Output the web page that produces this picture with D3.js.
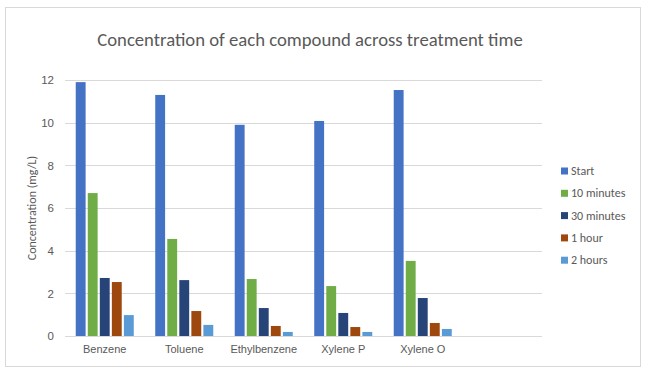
<!DOCTYPE html>
<html>
<head>
<meta charset="utf-8">
<script src="https://cdn.jsdelivr.net/npm/d3@7"></script>
<style>
	body { margin: 0; background: #fff; }
	svg { display: block; font-family: Carlito, Calibri, "Liberation Sans", sans-serif; }
</style>
</head>
<body>
<div id="svg-container"></div>
<script>
// DATA
const compounds = ["Benzene", "Toluene", "Ethylbenzene", "Xylene P", "Xylene O", ""];
const seriesNames = ["Start", "10 minutes", "30 minutes", "1 hour", "2 hours"];
const start = [11.9, 11.3, 9.9, 10.08, 11.53];
const min10 = [6.7, 4.55, 2.67, 2.34, 3.52];
const min30 = [2.72, 2.62, 1.31, 1.08, 1.78];
const hour1 = [2.53, 1.17, 0.47, 0.42, 0.61];
const hour2 = [0.98, 0.52, 0.19, 0.19, 0.33];
const yTicks = [0, 2, 4, 6, 8, 10, 12];
const colors = ["#4472C4", "#70AD47", "#264478", "#9E480E", "#5B9BD5"];

const series = [start, min10, min30, hour1, hour2];

// BAR CHART
function graphData() {
	const w = 648;
	const h = 374;
	const padTop = 80;
	const padBottom = 38;
	const padLeft = 65;
	const plotRight = 542;

	const svg = d3.select("#svg-container")
		.append("svg")
		.attr("width", w)
		.attr("height", h);

	// chart border
	svg.append("rect")
		.attr("x", 5.5).attr("y", 7.5)
		.attr("width", 635).attr("height", 359)
		.attr("fill", "#fff")
		.attr("stroke", "#d9d9d9");

	// scales
	const xScale = d3.scaleBand()
		.domain(compounds)
		.range([padLeft, plotRight])
		.paddingInner(0.27)
		.paddingOuter(0.135);
	const xInner = d3.scaleBand()
		.domain(seriesNames)
		.range([0, xScale.bandwidth()])
		.paddingInner(0.18);
	const yScale = d3.scaleLinear()
		.domain([0, 12])
		.range([h - padBottom, padTop]);

	// gridlines
	svg.append("g")
		.selectAll("line")
		.data(yTicks)
		.enter()
		.append("line")
		.attr("x1", padLeft)
		.attr("x2", plotRight)
		.attr("y1", d => Math.round(yScale(d)) + 0.5)
		.attr("y2", d => Math.round(yScale(d)) + 0.5)
		.attr("stroke", "#d9d9d9");

	// y-axis
	const yAxis = d3.axisLeft(yScale)
		.tickValues(yTicks)
		.tickSize(0)
		.tickPadding(8);
	svg.append("g")
		.attr("transform", `translate(${padLeft - 3}, 0)`)
		.call(yAxis)
		.call(g => g.select(".domain").remove())
		.selectAll("text")
		.attr("fill", "#595959")
		.style("font-size", "11.5px");

	// x-axis
	const xAxis = d3.axisBottom(xScale)
		.tickSize(0)
		.tickPadding(9);
	svg.append("g")
		.attr("transform", `translate(0, ${h - padBottom})`)
		.call(xAxis)
		.call(g => g.select(".domain").remove())
		.selectAll("text")
		.attr("fill", "#595959")
		.style("font-size", "11px");

	// bars
	const groups = svg.append("g")
		.selectAll("g")
		.data(series)
		.enter()
		.append("g")
		.attr("fill", (d, i) => colors[i]);
	groups.each(function(values, i) {
		d3.select(this)
			.selectAll("rect")
			.data(values)
			.enter()
			.append("rect")
			.attr("x", (d, j) => xScale(compounds[j]) + xInner(seriesNames[i]))
			.attr("width", xInner.bandwidth())
			.attr("y", d => yScale(d))
			.attr("height", d => yScale(0) - yScale(d));
	});

	// title
	svg.append("text")
		.text("Concentration of each compound across treatment time")
		.attr("x", 310)
		.attr("y", 46)
		.attr("text-anchor", "middle")
		.attr("fill", "#595959")
		.style("font-size", "18.7px");

	// y label
	svg.append("text")
		.text("Concentration (mg/L)")
		.attr("transform", `translate(36, 208) rotate(-90)`)
		.attr("text-anchor", "middle")
		.attr("fill", "#595959")
		.style("font-size", "12px");

	// legend
	const legend = svg.append("g")
		.selectAll("g")
		.data(seriesNames)
		.enter()
		.append("g")
		.attr("transform", (d, i) => `translate(561, ${171 + i * 22.3})`);
	legend.append("rect")
		.attr("x", 0).attr("y", -3.5)
		.attr("width", 7).attr("height", 7)
		.attr("fill", (d, i) => colors[i]);
	legend.append("text")
		.text(d => d)
		.attr("x", 10)
		.attr("y", 4)
		.attr("fill", "#595959")
		.style("font-size", "12px");
}

document.addEventListener('DOMContentLoaded', () => {
	graphData();
});
</script>
</body>
</html>
